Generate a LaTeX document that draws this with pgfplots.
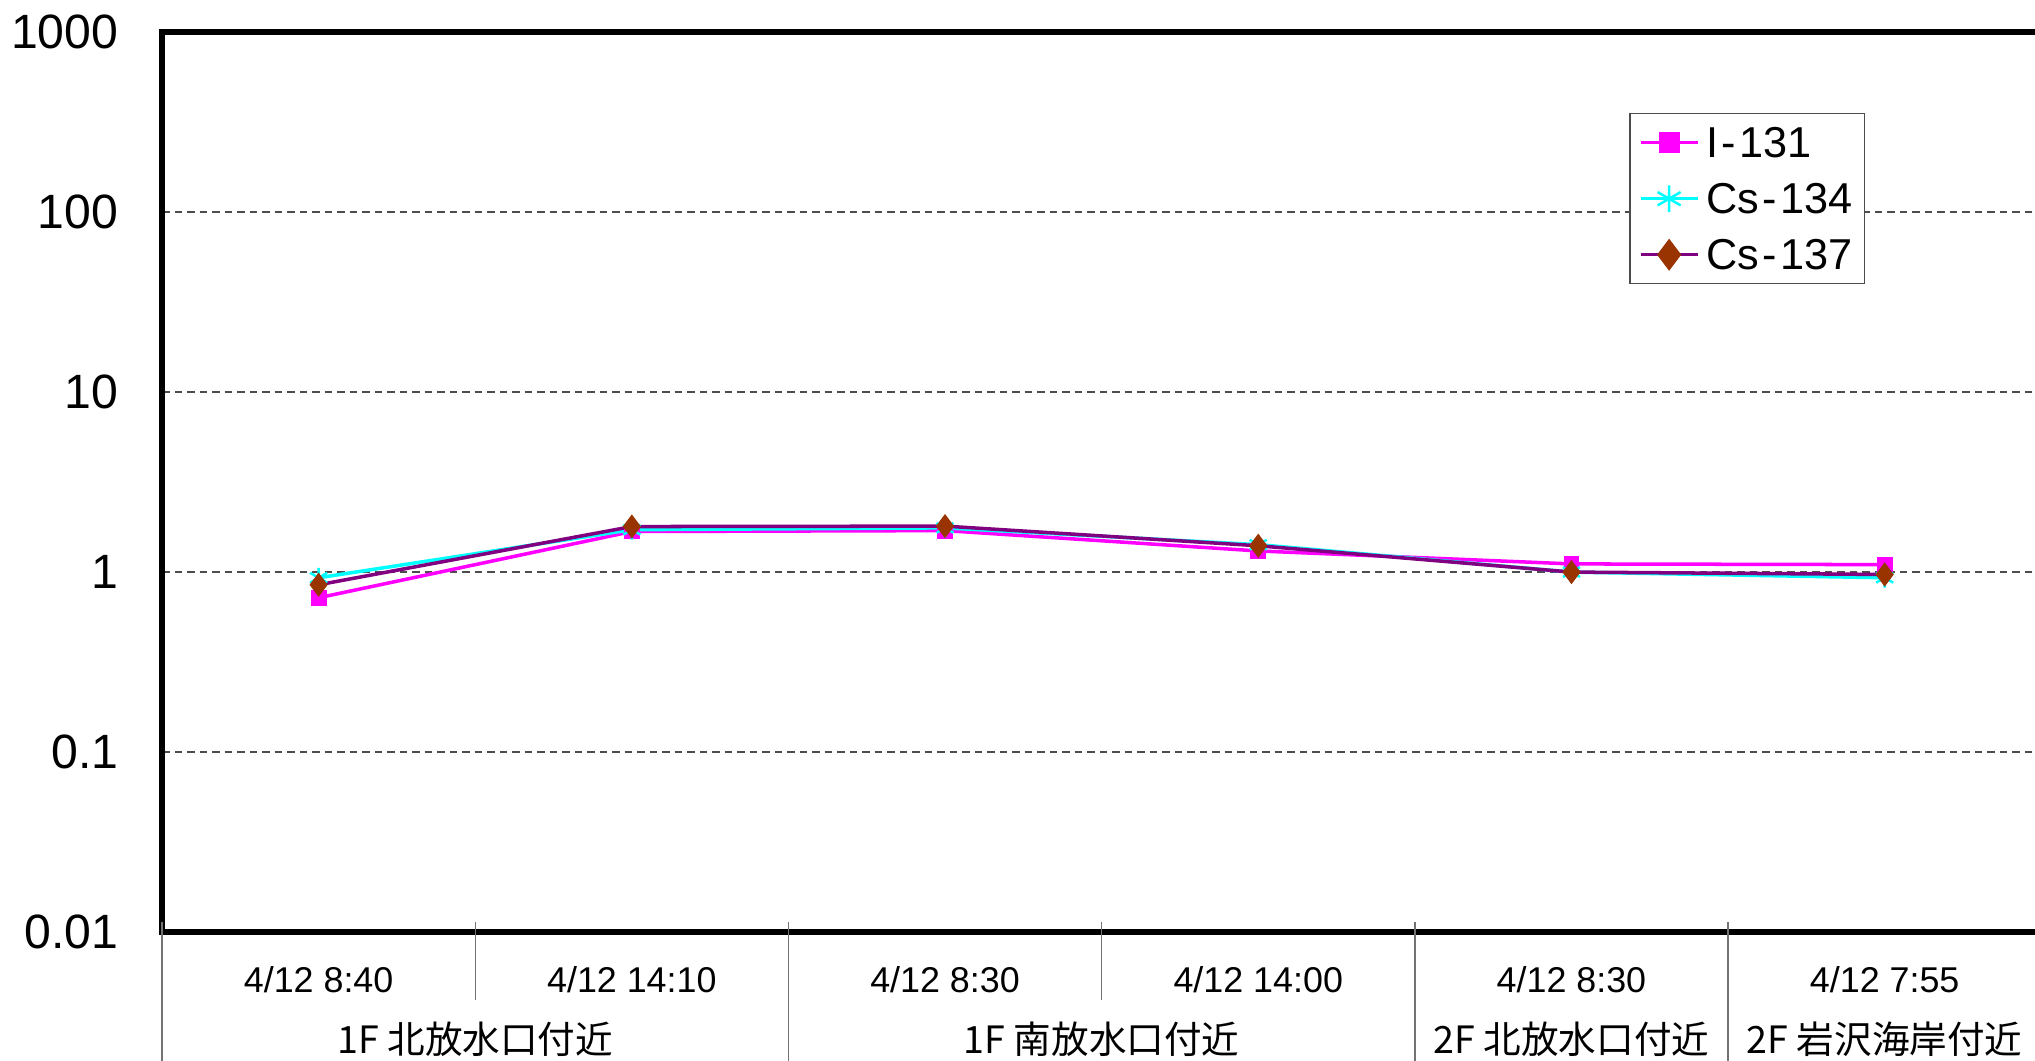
\documentclass[border=0pt]{standalone}
\usepackage{fontspec}
\setmainfont{Liberation Sans}
\newfontfamily\jp{Noto Sans CJK JP}
\usepackage{pgfplots}
\pgfplotsset{compat=1.18}
\definecolor{iodine}{HTML}{FF00FF}
\definecolor{cesfour}{HTML}{00FFFF}
\definecolor{cesseven}{HTML}{800080}
\definecolor{cesmark}{HTML}{993300}

\begin{document}
\begin{tikzpicture}
\begin{axis}[
    scale only axis,
    width=187.9mm, height=90mm,
    xmin=-0.5, xmax=5.5,
    ymode=log, ymin=0.01, ymax=1000,
    clip=false,
    axis line style={draw=none},
    tick style={draw=none},
    ytick={0.01,0.1,1,10,100,1000},
    yticklabels={0.01,0.1,1,10,100,1000},
    minor ytick={},
    xtick={0,1,2,3,4,5},
    xticklabels={4/12 8:40,4/12 14:10,4/12 8:30,4/12 14:00,4/12 8:30,4/12 7:55},
    yticklabel style={anchor=east, inner sep=0pt, xshift=-4.3mm,
        font=\fontsize{13.7}{16}\selectfont},
    xticklabel style={anchor=center, inner sep=0pt, yshift=-4.8mm,
        font=\fontsize{10.2}{12}\selectfont},
    ymajorgrids,
    major grid style={black!70, line width=0.35pt, dash pattern=on 0.75mm off 0.5mm},
    legend style={at={(axis description cs:0.7807,0.91)}, anchor=north west,
        draw=black!70, line width=0.4pt, fill=white,
        font=\fontsize{12.3}{14}\selectfont,
        inner xsep=0.9mm, inner ysep=0.75mm,
        column sep=0.4mm, row sep=1.3mm,
        nodes={inner sep=0.3mm, text height=3.3mm, text depth=0.4mm},
        cells={anchor=west}},
    legend image code/.code={\draw[mark repeat=2, mark phase=2, #1,
        every mark/.append style={scale=1.35}]
        plot coordinates {(0mm,0mm) (2.85mm,0mm) (5.7mm,0mm)};},
]

% I-131
\addplot[iodine, line width=1pt, mark=square*, mark size=2.1pt,
    mark options={fill=iodine, draw=iodine, line width=0.3pt}] coordinates {
    (0,0.72) (1,1.68) (2,1.70) (3,1.31) (4,1.11) (5,1.10)
};
% Cs-134
\addplot[cesfour, line width=1pt, mark=asterisk, mark size=2.8pt,
    mark options={draw=cesfour, line width=0.7pt}] coordinates {
    (0,0.93) (1,1.72) (2,1.76) (3,1.42) (4,1.00) (5,0.93)
};
% Cs-137
\addplot[cesseven, line width=1pt, mark=diamond*, mark size=3.2pt,
    mark options={fill=cesmark, draw=cesmark, line width=0.3pt}] coordinates {
    (0,0.85) (1,1.79) (2,1.80) (3,1.40) (4,1.00) (5,0.97)
};
\legend{I\kern0.08em-\kern0.08em131, Cs\kern0.08em-\kern0.08em134, Cs\kern0.08em-\kern0.08em137}

% frame: left, top and bottom only
\draw[line width=1.5pt] (rel axis cs:1,0) -- (rel axis cs:0,0)
    -- (rel axis cs:0,1) -- (rel axis cs:1,1);

% category separators under the axis
\pgfplotsinvokeforeach{-0.5,1.5,3.5,4.5}{
    \draw[black!55, line width=0.4pt] ([yshift=1mm]axis cs:#1,0.01)
        -- ([yshift=-13mm]axis cs:#1,0.01);
}
\pgfplotsinvokeforeach{0.5,2.5}{
    \draw[black!55, line width=0.4pt] ([yshift=1mm]axis cs:#1,0.01)
        -- ([yshift=-6.8mm]axis cs:#1,0.01);
}

% group labels
\node[font=\jp\fontsize{10.7}{12}\selectfont] at ([yshift=-10.7mm]axis cs:0.5,0.01) {1F 北放水口付近};
\node[font=\jp\fontsize{10.7}{12}\selectfont] at ([yshift=-10.7mm]axis cs:2.5,0.01) {1F 南放水口付近};
\node[font=\jp\fontsize{10.7}{12}\selectfont] at ([yshift=-10.7mm]axis cs:4,0.01) {2F 北放水口付近};
\node[font=\jp\fontsize{10.7}{12}\selectfont] at ([yshift=-10.7mm]axis cs:5,0.01) {2F 岩沢海岸付近};

\coordinate (bbA) at ([xshift=-16.2mm, yshift=-12.8mm]rel axis cs:0,0);
\coordinate (bbB) at ([yshift=3.2mm]axis cs:5.48,1000);
\end{axis}
\pgfresetboundingbox
\useasboundingbox (bbA) rectangle (bbB);
\end{tikzpicture}
\end{document}
